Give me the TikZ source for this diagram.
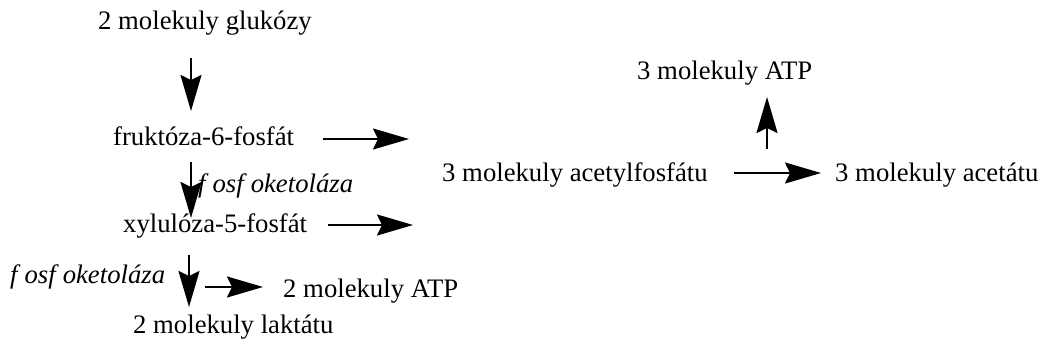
\documentclass[tikz,border=0pt]{standalone}
\usepackage{fontspec}
\setmainfont{Liberation Serif}
\usetikzlibrary{arrows.meta}
\tikzset{
  lbl/.style={inner sep=0pt, anchor=base west, font=\fontsize{26.7}{30}\selectfont},
  enz/.style={lbl, font=\fontsize{26.7}{30}\selectfont\itshape},
  rxn/.style={line width=2pt, -{Stealth[length=36pt, width=21pt, inset=5pt]}}
}
\newcommand{\fk}{f\kern7pt osf\kern7pt oketoláza}
\begin{document}
\begin{tikzpicture}[x=1pt, y=-1pt]
\useasboundingbox (0,0) rectangle (1049,350);
% texts
\node[lbl] (glc) at (98,30) {2 molekuly glukózy};
\node[lbl] (f6p) at (113,146) {fruktóza-6-fosfát};
\node[enz] (e1) at (198,192) {\fk};
\node[lbl] (x5p) at (123,232) {xylulóza-5-fosfát};
\node[enz] (e2) at (10,283) {\fk};
\node[lbl] (atp2) at (283,297) {2 molekuly ATP};
\node[lbl] (lak) at (133,333) {2 molekuly laktátu};
\node[lbl] (acp) at (442,181) {3 molekuly acetylfosfátu};
\node[lbl] (ace) at (835,181) {3 molekuly acetátu};
\node[lbl] (atp3) at (637,80) {3 molekuly ATP};
% arrow end points
\coordinate (a1s) at (191,58);  \coordinate (a1e) at (191,111);
\coordinate (a2s) at (323,139); \coordinate (a2e) at (409,139);
\coordinate (a3s) at (191,162); \coordinate (a3e) at (191,218);
\coordinate (a4s) at (328,225); \coordinate (a4e) at (413,225);
\coordinate (a5s) at (189,255); \coordinate (a5e) at (189,307);
\coordinate (a6s) at (205,287); \coordinate (a6e) at (263,287);
\coordinate (a7s) at (767,149); \coordinate (a7e) at (767,97);
\coordinate (a8s) at (734,173); \coordinate (a8e) at (821,173);
% arrows
\draw[rxn] (a1s) -- (a1e);
\draw[rxn] (a2s) -- (a2e);
\draw[rxn] (a3s) -- (a3e);
\draw[rxn] (a4s) -- (a4e);
\draw[rxn] (a5s) -- (a5e);
\draw[rxn] (a6s) -- (a6e);
\draw[rxn] (a7s) -- (a7e);
\draw[rxn] (a8s) -- (a8e);
\end{tikzpicture}
\end{document}
